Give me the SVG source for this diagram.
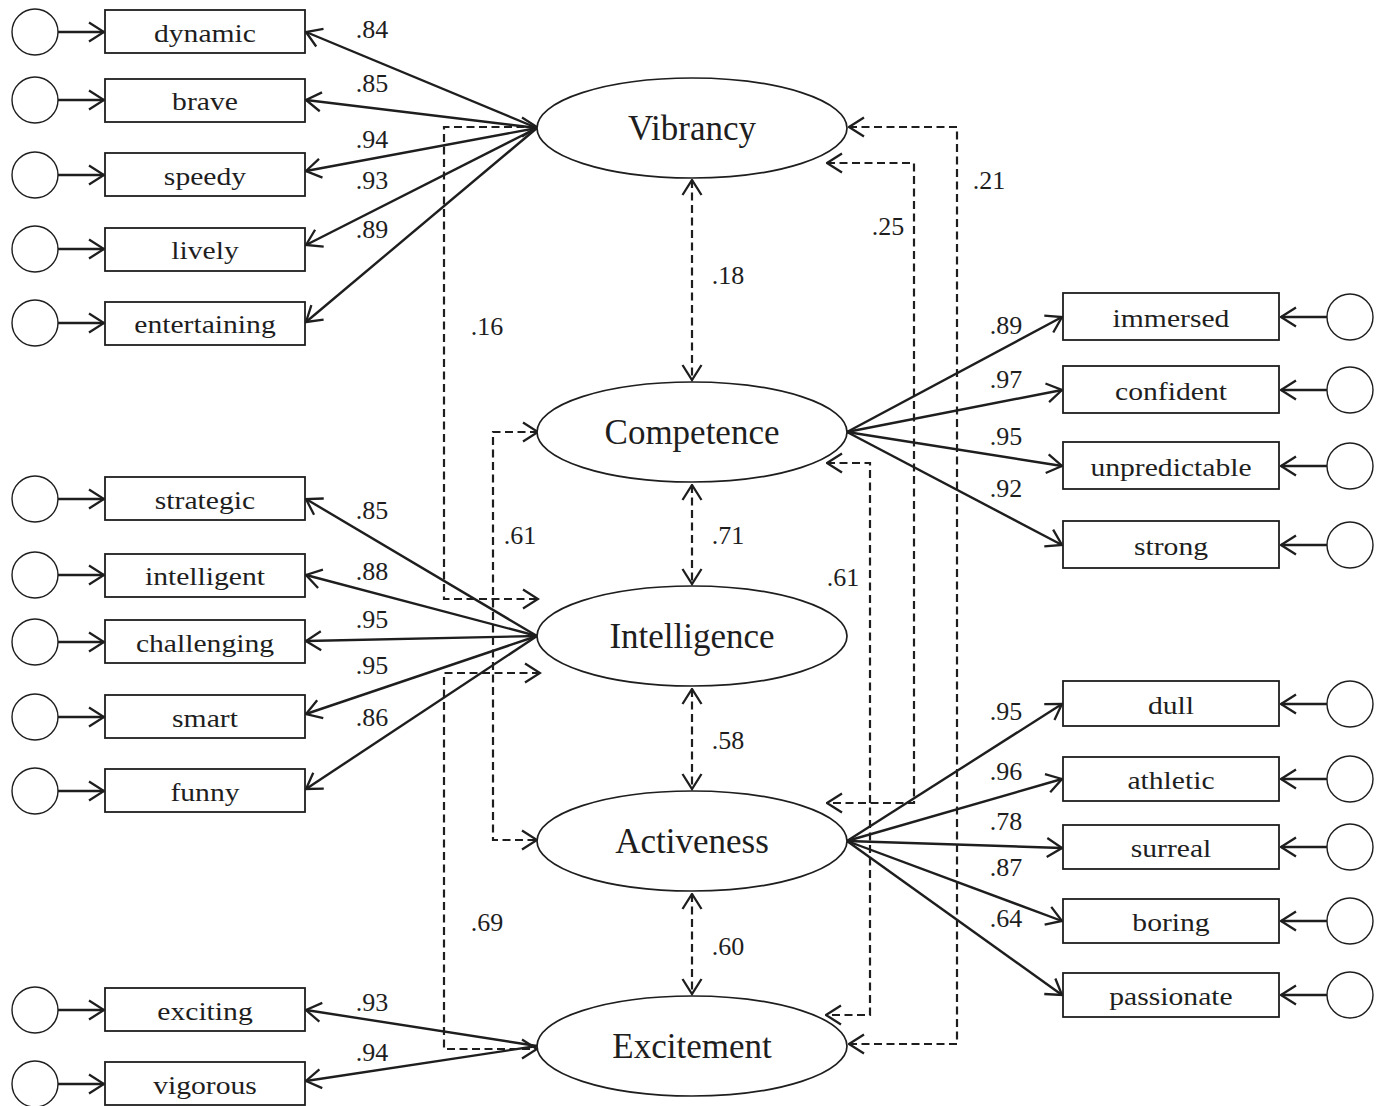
<svg xmlns="http://www.w3.org/2000/svg" width="1378" height="1106" viewBox="0 0 1378 1106">
<defs>
<marker id="ah" viewBox="0 0 18 22" refX="16.5" refY="11" markerWidth="18" markerHeight="22" markerUnits="userSpaceOnUse" orient="auto-start-reverse">
<path d="M1.5,1.5 L16.5,11 L1.5,20.5" fill="none" stroke="#1e1e1e" stroke-width="2.3" stroke-dasharray="none"/>
</marker>
</defs>
<style>
.box{fill:#fff;stroke:#1e1e1e;stroke-width:1.8}
.err{fill:#fff;stroke:#1e1e1e;stroke-width:1.4}
.lat{fill:#fff;stroke:#1e1e1e;stroke-width:1.7}
.ind{font-family:"Liberation Serif","Times New Roman",serif;font-size:26px;fill:#1e1e1e;text-anchor:middle}
.latt{font-family:"Liberation Serif","Times New Roman",serif;font-size:35px;fill:#1e1e1e;text-anchor:middle}
.num{font-family:"Liberation Serif","Times New Roman",serif;font-size:26px;fill:#1e1e1e;text-anchor:middle}
.sol{fill:none;stroke:#1e1e1e;stroke-width:2.4;marker-end:url(#ah)}
.dsh{fill:none;stroke:#1e1e1e;stroke-width:2.2;stroke-dasharray:8,4.5;marker-start:url(#ah);marker-end:url(#ah)}
</style>
<rect width="1378" height="1106" fill="#fff"/>

<g id="connectors">
<path class="sol" d="M58,32 H104"/>
<path class="sol" d="M58,100 H104"/>
<path class="sol" d="M58,175 H104"/>
<path class="sol" d="M58,249 H104"/>
<path class="sol" d="M58,323 H104"/>
<path class="sol" d="M58,499 H104"/>
<path class="sol" d="M58,575 H104"/>
<path class="sol" d="M58,642 H104"/>
<path class="sol" d="M58,717 H104"/>
<path class="sol" d="M58,791 H104"/>
<path class="sol" d="M58,1010 H104"/>
<path class="sol" d="M58,1084 H104"/>
<path class="sol" d="M1327,317 H1281"/>
<path class="sol" d="M1327,390 H1281"/>
<path class="sol" d="M1327,466 H1281"/>
<path class="sol" d="M1327,545 H1281"/>
<path class="sol" d="M1327,704 H1281"/>
<path class="sol" d="M1327,779 H1281"/>
<path class="sol" d="M1327,847 H1281"/>
<path class="sol" d="M1327,921 H1281"/>
<path class="sol" d="M1327,995 H1281"/>
<path class="sol" d="M537,128 L306,32"/>
<path class="sol" d="M537,128 L306,100"/>
<path class="sol" d="M537,128 L306,171"/>
<path class="sol" d="M537,128 L306,245"/>
<path class="sol" d="M537,128 L306,322"/>
<path class="sol" d="M537,636 L306,499"/>
<path class="sol" d="M537,636 L306,575"/>
<path class="sol" d="M537,636 L306,641"/>
<path class="sol" d="M537,636 L306,714"/>
<path class="sol" d="M537,636 L306,789"/>
<path class="sol" d="M537,1046 L306,1010"/>
<path class="sol" d="M537,1046 L306,1081"/>
<path class="sol" d="M847,432 L1062,317"/>
<path class="sol" d="M847,432 L1062,390"/>
<path class="sol" d="M847,432 L1062,466"/>
<path class="sol" d="M847,432 L1062,545"/>
<path class="sol" d="M847,841 L1062,704"/>
<path class="sol" d="M847,841 L1062,779"/>
<path class="sol" d="M847,841 L1062,848"/>
<path class="sol" d="M847,841 L1062,921"/>
<path class="sol" d="M847,841 L1062,995"/>
<path class="dsh" d="M692,180 V380"/>
<path class="dsh" d="M692,485 V584"/>
<path class="dsh" d="M692,689 V789"/>
<path class="dsh" d="M692,894 V994"/>
<path class="dsh" d="M537,127 H444 V599 H538"/>
<path class="dsh" d="M540,673 H444 V1049 H537"/>
<path class="dsh" d="M538,432 H493 V840 H537"/>
<path class="dsh" d="M849,127 H957 V1044 H849"/>
<path class="dsh" d="M827,163 H914 V803 H827"/>
<path class="dsh" d="M827,463 H870 V1015 H826"/>
</g>

<g id="labels">
<text class="num" x="372" y="38">.84</text>
<text class="num" x="372" y="92">.85</text>
<text class="num" x="372" y="148">.94</text>
<text class="num" x="372" y="189">.93</text>
<text class="num" x="372" y="238">.89</text>
<text class="num" x="487" y="335">.16</text>
<text class="num" x="728" y="284">.18</text>
<text class="num" x="888" y="235">.25</text>
<text class="num" x="989" y="189">.21</text>
<text class="num" x="520" y="544">.61</text>
<text class="num" x="728" y="544">.71</text>
<text class="num" x="843" y="586">.61</text>
<text class="num" x="728" y="749">.58</text>
<text class="num" x="728" y="955">.60</text>
<text class="num" x="487" y="931">.69</text>
<text class="num" x="372" y="519">.85</text>
<text class="num" x="372" y="580">.88</text>
<text class="num" x="372" y="628">.95</text>
<text class="num" x="372" y="674">.95</text>
<text class="num" x="372" y="726">.86</text>
<text class="num" x="372" y="1011">.93</text>
<text class="num" x="372" y="1061">.94</text>
<text class="num" x="1006" y="334">.89</text>
<text class="num" x="1006" y="388">.97</text>
<text class="num" x="1006" y="445">.95</text>
<text class="num" x="1006" y="497">.92</text>
<text class="num" x="1006" y="720">.95</text>
<text class="num" x="1006" y="780">.96</text>
<text class="num" x="1006" y="830">.78</text>
<text class="num" x="1006" y="876">.87</text>
<text class="num" x="1006" y="927">.64</text>
</g>

<g id="Vibrancy"><ellipse class="lat" cx="692" cy="128" rx="155" ry="50"/><text class="latt" x="692" y="140">Vibrancy</text></g>
<g id="Competence"><ellipse class="lat" cx="692" cy="432" rx="155" ry="50"/><text class="latt" x="692" y="444">Competence</text></g>
<g id="Intelligence"><ellipse class="lat" cx="692" cy="636" rx="155" ry="50"/><text class="latt" x="692" y="648">Intelligence</text></g>
<g id="Activeness"><ellipse class="lat" cx="692" cy="841" rx="155" ry="50"/><text class="latt" x="692" y="853">Activeness</text></g>
<g id="Excitement"><ellipse class="lat" cx="692" cy="1046" rx="155" ry="50"/><text class="latt" x="692" y="1058">Excitement</text></g>

<g id="dynamic"><circle class="err" cx="35" cy="32" r="23"/><rect class="box" x="105" y="10" width="200" height="43"/><text class="ind" transform="translate(205,42) scale(1.14,1)">dynamic</text></g>
<g id="brave"><circle class="err" cx="35" cy="100" r="23"/><rect class="box" x="105" y="79" width="200" height="43"/><text class="ind" transform="translate(205,110) scale(1.14,1)">brave</text></g>
<g id="speedy"><circle class="err" cx="35" cy="175" r="23"/><rect class="box" x="105" y="153" width="200" height="43"/><text class="ind" transform="translate(205,185) scale(1.14,1)">speedy</text></g>
<g id="lively"><circle class="err" cx="35" cy="249" r="23"/><rect class="box" x="105" y="228" width="200" height="43"/><text class="ind" transform="translate(205,259) scale(1.14,1)">lively</text></g>
<g id="entertaining"><circle class="err" cx="35" cy="323" r="23"/><rect class="box" x="105" y="302" width="200" height="43"/><text class="ind" transform="translate(205,333) scale(1.14,1)">entertaining</text></g>
<g id="strategic"><circle class="err" cx="35" cy="499" r="23"/><rect class="box" x="105" y="477" width="200" height="43"/><text class="ind" transform="translate(205,509) scale(1.14,1)">strategic</text></g>
<g id="intelligent"><circle class="err" cx="35" cy="575" r="23"/><rect class="box" x="105" y="554" width="200" height="43"/><text class="ind" transform="translate(205,585) scale(1.14,1)">intelligent</text></g>
<g id="challenging"><circle class="err" cx="35" cy="642" r="23"/><rect class="box" x="105" y="620" width="200" height="43"/><text class="ind" transform="translate(205,652) scale(1.14,1)">challenging</text></g>
<g id="smart"><circle class="err" cx="35" cy="717" r="23"/><rect class="box" x="105" y="695" width="200" height="43"/><text class="ind" transform="translate(205,727) scale(1.14,1)">smart</text></g>
<g id="funny"><circle class="err" cx="35" cy="791" r="23"/><rect class="box" x="105" y="769" width="200" height="43"/><text class="ind" transform="translate(205,801) scale(1.14,1)">funny</text></g>
<g id="exciting"><circle class="err" cx="35" cy="1010" r="23"/><rect class="box" x="105" y="988" width="200" height="43"/><text class="ind" transform="translate(205,1020) scale(1.14,1)">exciting</text></g>
<g id="vigorous"><circle class="err" cx="35" cy="1084" r="23"/><rect class="box" x="105" y="1062" width="200" height="43"/><text class="ind" transform="translate(205,1094) scale(1.14,1)">vigorous</text></g>

<g id="immersed"><circle class="err" cx="1350" cy="317" r="23"/><rect class="box" x="1063" y="293" width="216" height="47"/><text class="ind" transform="translate(1171,327) scale(1.14,1)">immersed</text></g>
<g id="confident"><circle class="err" cx="1350" cy="390" r="23"/><rect class="box" x="1063" y="366" width="216" height="47"/><text class="ind" transform="translate(1171,400) scale(1.14,1)">confident</text></g>
<g id="unpredictable"><circle class="err" cx="1350" cy="466" r="23"/><rect class="box" x="1063" y="442" width="216" height="47"/><text class="ind" transform="translate(1171,476) scale(1.14,1)">unpredictable</text></g>
<g id="strong"><circle class="err" cx="1350" cy="545" r="23"/><rect class="box" x="1063" y="521" width="216" height="47"/><text class="ind" transform="translate(1171,555) scale(1.14,1)">strong</text></g>
<g id="dull"><circle class="err" cx="1350" cy="704" r="23"/><rect class="box" x="1063" y="681" width="216" height="45"/><text class="ind" transform="translate(1171,714) scale(1.14,1)">dull</text></g>
<g id="athletic"><circle class="err" cx="1350" cy="779" r="23"/><rect class="box" x="1063" y="757" width="216" height="44"/><text class="ind" transform="translate(1171,789) scale(1.14,1)">athletic</text></g>
<g id="surreal"><circle class="err" cx="1350" cy="847" r="23"/><rect class="box" x="1063" y="825" width="216" height="44"/><text class="ind" transform="translate(1171,857) scale(1.14,1)">surreal</text></g>
<g id="boring"><circle class="err" cx="1350" cy="921" r="23"/><rect class="box" x="1063" y="899" width="216" height="44"/><text class="ind" transform="translate(1171,931) scale(1.14,1)">boring</text></g>
<g id="passionate"><circle class="err" cx="1350" cy="995" r="23"/><rect class="box" x="1063" y="973" width="216" height="44"/><text class="ind" transform="translate(1171,1005) scale(1.14,1)">passionate</text></g>
</svg>
